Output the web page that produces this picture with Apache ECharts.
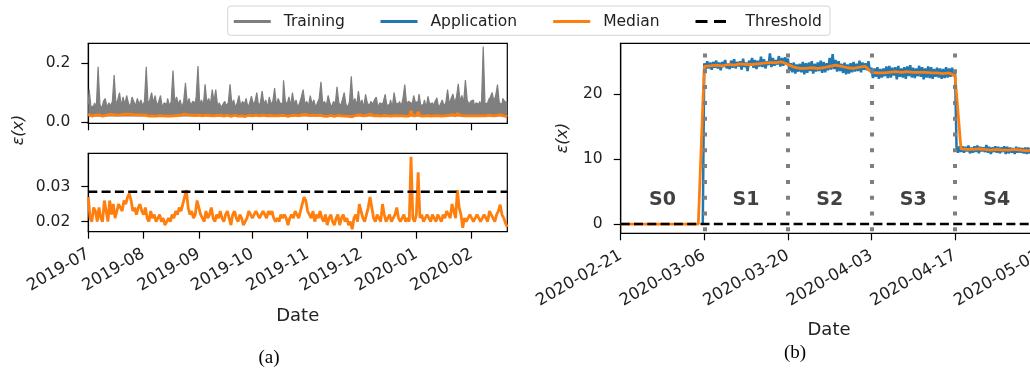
<!DOCTYPE html>
<html>
<head>
<meta charset="utf-8">
<script src="https://cdn.jsdelivr.net/npm/echarts@6.0.0/dist/echarts.min.js"></script>
<style>
  html, body { margin: 0; padding: 0; background: #fff; }
  #chart { width: 1030px; height: 374px; }
</style>
</head>
<body>
<div id="chart"></div>
<script>
// ---- panel (a): daily values, 2019-07-01 .. 2020-02-21 ----
const trainingPeak = [
  0.06,0.11,0.05,0.055,0.065,0.05,0.188,0.06,0.045,0.07,0.08,0.05,0.065,0.055,0.07,0.16,0.06,0.075,0.10,0.055,0.085,0.06,0.09,0.065,0.05,0.085,0.07,0.055,0.08,0.06,0.075,
  0.055,0.07,0.188,0.06,0.075,0.10,0.065,0.09,0.055,0.07,0.09,0.05,0.065,0.06,0.08,0.055,0.07,0.175,0.065,0.085,0.06,0.075,0.05,0.07,0.133,0.06,0.08,0.055,0.07,0.065,0.085,
  0.19,0.06,0.075,0.055,0.128,0.065,0.08,0.06,0.11,0.07,0.11,0.055,0.065,0.05,0.06,0.07,0.055,0.065,0.128,0.06,0.075,0.05,0.065,0.09,0.055,0.07,0.06,0.08,0.05,0.065,
  0.088,0.06,0.07,0.10,0.055,0.065,0.105,0.06,0.075,0.05,0.085,0.06,0.07,0.115,0.055,0.08,0.065,0.06,0.142,0.07,0.06,0.085,0.055,0.10,0.06,0.075,0.05,0.065,0.085,0.11,0.06,
  0.07,0.055,0.09,0.06,0.075,0.05,0.065,0.08,0.137,0.06,0.07,0.055,0.09,0.065,0.05,0.07,0.06,0.12,0.065,0.055,0.075,0.10,0.06,0.05,0.07,0.155,0.065,0.08,0.055,0.105,
  0.06,0.075,0.05,0.094,0.065,0.055,0.07,0.06,0.075,0.085,0.05,0.065,0.06,0.07,0.094,0.055,0.06,0.075,0.05,0.10,0.065,0.06,0.07,0.055,0.08,0.127,0.06,0.07,0.065,0.055,0.09,
  0.065,0.07,0.095,0.055,0.06,0.075,0.05,0.087,0.06,0.065,0.055,0.07,0.082,0.05,0.06,0.075,0.055,0.065,0.11,0.06,0.08,0.095,0.065,0.085,0.13,0.07,0.09,0.065,0.143,0.075,0.06,
  0.07,0.075,0.055,0.065,0.06,0.07,0.055,0.257,0.06,0.065,0.075,0.085,0.10,0.07,0.09,0.127,0.065,0.06,0.08,0.07,0.065
];
const medianA = [
  0.027,0.021,0.020,0.024,0.023,0.020,0.024,0.021,0.020,0.026,0.023,0.020,0.026,0.022,0.025,0.021,0.023,0.025,0.024,0.023,0.026,0.025,0.027,0.028,0.026,0.023,0.024,0.022,0.024,0.025,0.023,
  0.022,0.024,0.021,0.020,0.023,0.021,0.022,0.020,0.021,0.022,0.020,0.021,0.019,0.020,0.021,0.020,0.022,0.021,0.023,0.022,0.024,0.023,0.025,0.027,0.029,0.024,0.022,0.023,0.021,0.022,0.026,
  0.024,0.022,0.021,0.020,0.023,0.021,0.022,0.024,0.021,0.020,0.022,0.021,0.023,0.021,0.020,0.022,0.023,0.021,0.019,0.022,0.023,0.021,0.020,0.022,0.021,0.019,0.0185,0.021,0.023,0.022,
  0.021,0.022,0.023,0.022,0.021,0.022,0.023,0.022,0.021,0.023,0.022,0.023,0.021,0.020,0.021,0.020,0.022,0.021,0.022,0.021,0.019,0.021,0.022,0.021,0.023,0.022,0.021,0.023,0.025,0.027,0.026,
  0.023,0.022,0.021,0.023,0.020,0.022,0.021,0.023,0.021,0.020,0.022,0.019,0.021,0.022,0.020,0.019,0.021,0.022,0.019,0.021,0.022,0.020,0.021,0.019,0.020,0.0178,0.021,0.022,0.020,0.025,
  0.023,0.021,0.020,0.022,0.024,0.027,0.024,0.021,0.020,0.022,0.021,0.020,0.025,0.022,0.020,0.021,0.022,0.020,0.021,0.022,0.024,0.021,0.020,0.021,0.022,0.020,0.021,0.020,0.0385,0.021,0.020,
  0.022,0.0341,0.021,0.022,0.020,0.021,0.022,0.021,0.020,0.022,0.021,0.020,0.022,0.021,0.020,0.022,0.021,0.023,0.022,0.021,0.025,0.023,0.021,0.029,0.024,0.022,0.0182,0.021,0.020,0.021,0.022,
  0.021,0.020,0.021,0.022,0.021,0.020,0.021,0.022,0.021,0.020,0.023,0.022,0.021,0.020,0.022,0.023,0.0248,0.022,0.021,0.0195,0.0184
];
const thresholdA = 0.0285;
const startA = '2019-07-01';
const endA = '2020-02-21';
const monthTicks = ['2019-07', '2019-08', '2019-09', '2019-10', '2019-11', '2019-12', '2020-01', '2020-02'];
const topYTicks = [0.0, 0.2];
const lowYTicks = [0.02, 0.03];

// ---- panel (b): median daily from 2020-02-21, application every 6 h from 2020-03-05 18:00 ----
const startB = '2020-02-21';
const endB = '2020-05-05';
const medianB = [
  0,0,0,0,0,0,0,0,0,0,0,0,0,0,
  24.3,24.4,24.5,24.4,24.6,24.5,24.7,24.6,24.6,24.7,24.8,24.9,24.9,25.0,
  24.6,24.2,24.0,24.0,24.1,24.0,24.1,24.3,24.5,24.3,24.1,24.0,24.2,24.3,
  23.4,23.3,23.3,23.4,23.5,23.4,23.5,23.4,23.4,23.4,23.3,23.3,23.2,23.3,
  22.9,11.6,11.5,11.5,11.6,11.5,11.4,11.5,11.4,11.4,11.5,11.4,11.3,11.4,11.3,11.3,11.4,11.3
];
const applicationB = [
  0,
  24.8,23.9,25.1,24.0, 24.9,23.8,25.0,24.1, 25.2,24.0,24.9,23.7, 25.0,24.2,25.3,24.0,
  24.7,23.9,25.2,24.1, 25.4,24.0,25.0,24.3, 25.1,23.8,25.5,24.2, 24.9,23.6,25.2,24.4,
  25.6,24.1,25.3,23.9, 25.2,24.3,25.8,24.2, 25.4,24.0,25.1,24.5, 26.3,24.2,25.6,24.4,
  25.3,24.6,25.9,24.3, 25.6,24.4,25.7,24.8,
  25.5,23.6,24.8,23.4, 24.9,23.2,24.6,23.5, 24.7,23.4,25.0,23.1, 24.8,23.3,24.9,23.6,
  25.1,23.2,24.7,23.5, 24.9,23.6,25.2,23.3, 25.0,23.4,24.8,23.7, 25.6,23.8,26.2,23.9,
  25.3,23.5,25.1,23.6, 24.7,23.3,24.9,23.1, 24.6,23.2,24.8,23.4, 25.0,23.5,24.7,23.6,
  25.2,23.4,24.9,23.8, 24.8,23.7,25.1,23.5,
  24.1,22.5,24.0,22.7, 24.2,22.4,23.9,22.6, 24.0,22.8,24.3,22.5, 24.4,22.6,24.1,22.9,
  24.2,22.3,24.4,22.7, 24.0,22.6,24.2,22.4, 24.3,22.8,24.5,22.6, 24.1,22.5,24.0,22.8,
  24.4,22.7,24.2,22.3, 24.0,22.6,24.3,22.5, 24.2,22.4,23.9,22.7, 24.1,22.6,24.0,22.4,
  23.9,22.5,24.2,22.6, 24.0,22.7,24.1,22.8,
  23.6,11.9,11.0,12.0, 11.1,12.0,11.0,11.9, 11.2,12.1,10.9,11.8, 11.0,12.0,11.1,12.1,
  10.9,11.9,11.2,11.8, 11.1,12.2,11.0,11.9, 10.8,11.8,11.1,12.0, 11.0,11.9,10.9,11.8,
  11.1,12.0,10.8,11.9, 10.9,11.8,11.0,11.7, 10.8,11.9,11.0,11.8, 11.0,11.7,10.9,11.8,
  10.8,11.8,10.9,11.7, 10.9,11.6,10.8,11.7, 10.8,11.7,10.9,11.6, 10.9,11.8,10.7,11.7,
  10.8,11.6,10.9,11.7, 10.7,11.7,10.8,11.6
];
const applicationStart = '2020-03-05T18:00:00Z';
const thresholdB = 0;
const stageDates = ['2020-02-21', '2020-03-06', '2020-03-20', '2020-04-03', '2020-04-17', '2020-05-01'];
const stageLabels = ['S0', 'S1', 'S2', 'S3', 'S4'];
const rightYTicks = [0, 10, 20];

const DAY = 864e5;
function days(from, to) {
  return (Date.parse(to) - Date.parse(from)) / DAY;
}

const FONT = 'DejaVu Sans';
const INK = '#222';

const aTickDays = monthTicks.map((m) => days(startA, m + '-01'));
const bTickDays = stageDates.map((d) => days(startB, d));
const aEnd = days(startA, endA);
const bEnd = days(startB, endB);
const appOffset = days(startB, applicationStart);
const stageMid = stageLabels.map((_, i) => (bTickDays[i] + bTickDays[i + 1]) / 2);

const chart = echarts.init(document.getElementById('chart'), null, { renderer: 'canvas' });

function xAxisBase(gridIndex, max, ticks, labels, showLabels) {
  return {
    type: 'value',
    gridIndex,
    min: 0,
    max,
    axisLine: { show: true, onZero: false, lineStyle: { color: '#000', width: 1.2 } },
    axisTick: { show: true, length: 7, customValues: ticks, lineStyle: { color: '#000', width: 1.2 } },
    axisLabel: {
      show: showLabels,
      customValues: ticks,
      rotate: 30,
      margin: 21,
      fontFamily: FONT,
      fontSize: 16.5,
      color: INK,
      formatter: (v) => {
        const i = ticks.findIndex((t) => Math.abs(t - v) < 1e-6);
        return i >= 0 ? labels[i] : '';
      },
    },
    splitLine: { show: false },
  };
}

function yAxisBase(gridIndex, min, max, ticks, digits) {
  return {
    type: 'value',
    gridIndex,
    min,
    max,
    axisLine: { show: true, onZero: false, lineStyle: { color: '#000', width: 1.2 } },
    axisTick: { show: true, length: 7, customValues: ticks, lineStyle: { color: '#000', width: 1.2 } },
    axisLabel: {
      customValues: ticks,
      margin: 18,
      fontFamily: FONT,
      fontSize: 15.5,
      color: INK,
      formatter: (v) => v.toFixed(digits),
    },
    splitLine: { show: false },
  };
}

const gridBox = {
  show: true,
  borderColor: '#000',
  borderWidth: 1.2,
  backgroundColor: 'transparent',
  containLabel: false,
  outerBoundsMode: 'none',
};

function legendItem(name, left, lineStyle) {
  return {
    data: [name],
    left,
    top: 13.5,
    padding: 0,
    itemWidth: 37,
    itemHeight: 14,
    selectedMode: false,
    lineStyle,
    itemStyle: { opacity: 0 },
    textStyle: { fontFamily: FONT, fontSize: 15.5, color: INK, padding: [0, 0, 0, 8] },
  };
}

const option = {
  animation: false,
  backgroundColor: '#fff',
  grid: [
    Object.assign({ left: 88.3, top: 43.3, width: 419, height: 80 }, gridBox),
    Object.assign({ left: 88.3, top: 153.3, width: 419, height: 78.4 }, gridBox),
    Object.assign({ left: 620.7, top: 43.3, width: bEnd * 5.97, height: 190 }, gridBox),
  ],
  xAxis: [
    xAxisBase(0, aEnd, aTickDays, monthTicks, false),
    xAxisBase(1, aEnd, aTickDays, monthTicks, true),
    xAxisBase(2, bEnd, bTickDays, stageDates, true),
  ],
  yAxis: [
    yAxisBase(0, -0.0045, 0.2676, topYTicks, 1),
    yAxisBase(1, 0.0171, 0.0395, lowYTicks, 2),
    yAxisBase(2, -1.43, 27.87, rightYTicks, 0),
  ],
  legend: [
    legendItem('Training', 232.3, { width: 3 }),
    legendItem('Application', 379, { width: 3 }),
    legendItem('Median', 551.7, { width: 3 }),
    legendItem('Threshold', 694, { width: 3, type: [12, 6.5] }),
  ],
  series: [
    {
      name: 'Training',
      type: 'line',
      xAxisIndex: 0,
      yAxisIndex: 0,
      data: trainingPeak.map((v, i) => [i, v]),
      step: 'middle',
      symbol: 'none',
      color: '#7f7f7f',
      lineStyle: { color: '#7f7f7f', width: 1.2 },
      areaStyle: { color: '#7f7f7f', opacity: 1, origin: 0.019 },
      z: 2,
    },
    {
      name: 'Median',
      type: 'line',
      xAxisIndex: 0,
      yAxisIndex: 0,
      data: medianA.map((v, i) => [i, v]),
      symbol: 'none',
      color: '#ff7f0e',
      lineStyle: { color: '#ff7f0e', width: 2.8 },
      z: 3,
    },
    {
      name: 'Median',
      type: 'line',
      xAxisIndex: 1,
      yAxisIndex: 1,
      data: medianA.map((v, i) => [i, v]),
      symbol: 'none',
      color: '#ff7f0e',
      lineStyle: { color: '#ff7f0e', width: 2.8 },
      z: 3,
    },
    {
      name: 'Threshold',
      type: 'line',
      xAxisIndex: 1,
      yAxisIndex: 1,
      data: [[0, thresholdA], [aEnd, thresholdA]],
      symbol: 'none',
      color: '#000',
      lineStyle: { color: '#000', width: 2.5, type: [9, 4.3] },
      z: 4,
    },
    {
      name: 'Application',
      type: 'line',
      xAxisIndex: 2,
      yAxisIndex: 2,
      data: applicationB.map((v, i) => [appOffset + i * 0.25, v]),
      symbol: 'none',
      color: '#1f77b4',
      lineStyle: { color: '#1f77b4', width: 2.5 },
      z: 2,
    },
    {
      name: 'Median',
      type: 'line',
      xAxisIndex: 2,
      yAxisIndex: 2,
      data: medianB.map((v, i) => [i, v]),
      symbol: 'none',
      color: '#ff7f0e',
      lineStyle: { color: '#ff7f0e', width: 2.8 },
      z: 3,
    },
    {
      name: 'Threshold',
      type: 'line',
      xAxisIndex: 2,
      yAxisIndex: 2,
      data: [[0, thresholdB], [bEnd, thresholdB]],
      symbol: 'none',
      color: '#000',
      lineStyle: { color: '#000', width: 2.5, type: [9, 4.3] },
      z: 4,
      markLine: {
        silent: true,
        symbol: 'none',
        label: { show: false },
        lineStyle: { color: '#7f7f7f', width: 4, type: [4, 11.8], cap: 'butt' },
        data: bTickDays.slice(1, 5).map((d) => [{ coord: [d, 26.3] }, { coord: [d, -1.2] }]),
      },
    },
    {
      name: 'stages',
      type: 'scatter',
      xAxisIndex: 2,
      yAxisIndex: 2,
      data: stageMid.map((d) => [d, 3.65]),
      symbolSize: 0,
      silent: true,
      label: {
        show: true,
        position: 'inside',
        formatter: (p) => stageLabels[p.dataIndex],
        fontFamily: FONT,
        fontWeight: 'bold',
        fontSize: 19,
        color: '#111',
      },
      z: 5,
    },
  ],
  graphic: [
    {
      type: 'rect',
      shape: { x: 227.7, y: 6, width: 602.3, height: 29.3, r: 3 },
      style: { fill: '#fff', stroke: '#d4d4d4', lineWidth: 1 },
      z: 0,
    },
    { type: 'text', x: 18.5, y: 130, rotation: Math.PI / 2,
      style: { text: 'ε(x)', font: 'italic 16px "DejaVu Sans"', fill: INK, align: 'center', verticalAlign: 'middle' } },
    { type: 'text', x: 563, y: 138, rotation: Math.PI / 2,
      style: { text: 'ε(x)', font: 'italic 16px "DejaVu Sans"', fill: INK, align: 'center', verticalAlign: 'middle' } },
    { type: 'text', x: 297.7, y: 316,
      style: { text: 'Date', font: '18px "DejaVu Sans"', fill: INK, align: 'center', verticalAlign: 'middle' } },
    { type: 'text', x: 829, y: 330,
      style: { text: 'Date', font: '18px "DejaVu Sans"', fill: INK, align: 'center', verticalAlign: 'middle' } },
    { type: 'text', x: 269, y: 358,
      style: { text: '(a)', font: '19px "Liberation Serif"', fill: '#000', align: 'center', verticalAlign: 'middle' } },
    { type: 'text', x: 795, y: 353,
      style: { text: '(b)', font: '19px "Liberation Serif"', fill: '#000', align: 'center', verticalAlign: 'middle' } },
  ],
};

chart.setOption(option);
</script>
</body>
</html>
